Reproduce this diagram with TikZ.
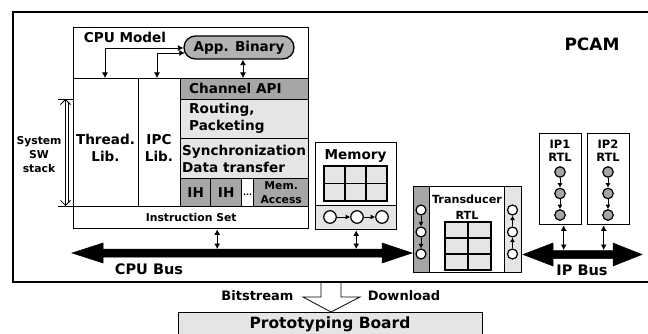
\documentclass[tikz,border=0pt]{standalone}
\usepackage{fontspec}
\setmainfont{DejaVu Sans}
\usetikzlibrary{arrows.meta,shapes.misc,calc}
\begin{document}
\begin{tikzpicture}[x=1pt,y=-1pt,
  box/.style={draw, line width=1.4pt, inner sep=0pt, anchor=north west},
  dk/.style={fill=black!35},
  lt/.style={fill=black!10},
  bigtxt/.style={font=\fontsize{13.6}{17}\selectfont\bfseries, inner sep=0pt, align=center},
  smtxt/.style={font=\fontsize{10.8}{14}\selectfont\bfseries, inner sep=0pt, align=center},
  bidir/.style={{Latex[length=5.5pt,width=6pt]}-{Latex[length=5.5pt,width=6pt]}, line width=0.8pt},
  dot/.style={circle, draw, line width=1.2pt, inner sep=0pt, fill=white},
  flow/.style={-{Latex[length=4.5pt,width=5pt]}, line width=0.8pt},
  bus/.style={fill=black, draw=black, line width=0.5pt}]
\useasboundingbox (0,0) rectangle (648,334);

% PCAM frame (open on the right)
\draw[line width=1.6pt] (650,12) -- (13,12) -- (13,282) -- (650,282);
\node[font=\fontsize{17}{17}\selectfont\bfseries, inner sep=0pt] (pcam) at (592,44) {PCAM};

% CPU model
\node[box, minimum width=235pt, minimum height=201pt] (cpu) at (73,27) {};
\node[bigtxt] (cputxt) at (125,37) {CPU Model};
\node[draw, rounded rectangle, line width=1.3pt, fill=black!30, minimum width=110pt,
      minimum height=23pt, inner sep=0pt, font=\fontsize{13.6}{17}\selectfont\bfseries]
      (app) at (239,47.5) {App. Binary};

\node[box, minimum width=65pt, minimum height=128pt] (thr) at (73,78) {};
\node[box, minimum width=42pt, minimum height=128pt] (ipc) at (138,78) {};
\node[box, dk, minimum width=128pt, minimum height=21pt] (chan) at (180,78) {};
\node[box, lt, minimum width=128pt, minimum height=39pt] (rout) at (180,99) {};
\node[box, lt, minimum width=128pt, minimum height=40pt] (sync) at (180,138) {};
\node[box, dk, minimum width=30pt, minimum height=28pt] (ih1) at (180,178) {};
\node[box, dk, minimum width=31pt, minimum height=28pt] (ih2) at (210,178) {};
\node[box, fill=white, minimum width=12pt, minimum height=28pt] (dots) at (241,178) {};
\node[box, dk, minimum width=55pt, minimum height=28pt] (macc) at (253,178) {};
\node[box, fill=white, minimum width=235pt, minimum height=22pt] (iset) at (73,206) {};

\node[bigtxt] at (105.5,148) {Thread.\\Lib.};
\node[bigtxt] at (159,148) {IPC\\Lib.};
\node[bigtxt, anchor=west] at (189,88.5) {Channel API};
\node[bigtxt, anchor=west, align=left] at (189,118.5) {Routing,\\Packeting};
\node[bigtxt, anchor=west, align=left] at (182,158.5) {Synchronization\\Data transfer};
\node[bigtxt] at (ih1.center) {IH};
\node[bigtxt] at (ih2.center) {IH};
\node[font=\fontsize{8}{8}\selectfont\bfseries, inner sep=0pt] at ([yshift=-2pt]dots.center) {...};
\node[smtxt] at (macc.center) {Mem.\\Access};
\node[smtxt] at (iset.center) {Instruction Set};

% links inside the CPU model
\draw[bidir] (105,78) |- ($(app.west)+(0,0.5)$);
\draw[bidir] (157,78) |- ($(app.west)+(1.5,5.5)$);
\draw[bidir] ([xshift=4pt]app.south) -- ([xshift=4pt]app.south |- chan.north);

% system software stack span
\coordinate (swtop) at (65.5,99);
\coordinate (swbot) at (65.5,206);
\draw[line width=0.9pt] (58,99) -- (74,99);
\draw[line width=0.9pt] (58,206) -- (73,206);
\draw[line width=0.8pt, {Straight Barb[length=5pt,width=10pt]}-{Straight Barb[length=5pt,width=10pt]}] (swtop) -- (swbot);
\draw[line width=0.8pt] (68,102) -- (68,203);
\node[smtxt] at (39,155) {System\\SW\\stack};

% memory
\node[box, minimum width=81pt, minimum height=87pt] (mem) at (315,142) {};
\node[box, lt, minimum width=81pt, minimum height=24pt] (memq) at (315,205) {};
\node[bigtxt] at (355.5,156) {Memory};
\draw[lt, line width=1.2pt] (324,166) rectangle (387,201);
\draw[line width=1.2pt] (345,166) -- (345,201) (366,166) -- (366,201) (324,183.5) -- (387,183.5);
\node[dot, minimum size=12.5pt] (m1) at (330,217) {};
\node[dot, minimum size=12.5pt] (m2) at (357,217) {};
\node[dot, minimum size=12.5pt] (m3) at (382,217) {};
\draw[flow] (m1) -- (m2);
\draw[flow] (m2) -- (m3);

% CPU bus
\coordinate (busy) at (0,249);
\fill[bus] (72,253) -- (103,243) -- (103,249) -- (382,249) -- (382,243) -- (412,253)
  -- (382,263) -- (382,257) -- (103,257) -- (103,263) -- cycle;
\node[font=\fontsize{14.5}{14.5}\selectfont\bfseries, inner sep=0pt] at (149,269) {CPU Bus};
\draw[bidir] ([xshift=26pt]iset.south) -- ([xshift=26pt]iset.south |- busy);
\draw[bidir] (mem.south) -- (mem.south |- busy);

% transducer
\node[box, fill=white, minimum width=108pt, minimum height=86pt] (trd) at (413,186) {};
\node[box, dk, minimum width=16pt, minimum height=86pt] (trl) at (413,186) {};
\node[box, lt, minimum width=17pt, minimum height=86pt] (trr) at (504,186) {};
\node[smtxt, font=\fontsize{11.2}{16}\selectfont\bfseries] at (467,207) {Transducer\\RTL};
\draw[lt, line width=1.2pt] (445,222) rectangle (491,270);
\draw[line width=1.2pt] (468,222) -- (468,270) (445,238) -- (491,238) (445,254) -- (491,254);
\node[dot, minimum size=10pt] (a1) at (421,210) {};
\node[dot, minimum size=10pt] (a2) at (421,232) {};
\node[dot, minimum size=10pt] (a3) at (421,254) {};
\draw[flow] (a1) -- (a2);
\draw[flow] (a2) -- (a3);
\node[dot, minimum size=10pt] (b1) at (512.5,210) {};
\node[dot, minimum size=10pt] (b2) at (512.5,232) {};
\node[dot, minimum size=10pt] (b3) at (512.5,254) {};
\draw[flow] (b3) -- (b2);
\draw[flow] (b2) -- (b1);

% IP blocks
\node[box, minimum width=42pt, minimum height=91pt] (ip1) at (539,133) {};
\node[box, minimum width=42pt, minimum height=91pt] (ip2) at (587,133) {};
\node[smtxt, font=\fontsize{11.5}{13}\selectfont\bfseries] at (560,151) {IP1\\RTL};
\node[smtxt, font=\fontsize{11.5}{13}\selectfont\bfseries] at (608,151) {IP2\\RTL};
\foreach \n/\x in {p/560, q/608} {
  \node[dot, fill=black!35, minimum size=10.5pt] (\n1) at (\x,172) {};
  \node[dot, fill=black!35, minimum size=10.5pt] (\n2) at (\x,193.5) {};
  \node[dot, fill=black!35, minimum size=10.5pt] (\n3) at (\x,215) {};
  \draw[flow] (\n1) -- (\n2);
  \draw[flow] (\n2) -- (\n3);
}

% IP bus
\coordinate (ipy) at (0,250);
\fill[bus] (523,254.5) -- (553,243) -- (553,250.5) -- (613,250.5) -- (613,243) -- (642,254.5)
  -- (613,266) -- (613,258.5) -- (553,258.5) -- (553,266) -- cycle;
\node[font=\fontsize{14.5}{14.5}\selectfont\bfseries, inner sep=0pt] at (582,270) {IP Bus};
\draw[bidir] ([xshift=3pt]ip1.south) -- ([xshift=3pt]ip1.south |- ipy);
\draw[bidir] ([xshift=-5pt]ip2.south) -- ([xshift=-5pt]ip2.south |- ipy);

% download to the board
\node[box, lt, minimum width=304pt, minimum height=30pt] (pb) at (178,312) {};
\node[font=\fontsize{15.5}{15.5}\selectfont\bfseries, inner sep=0pt] at (330,324) {Prototyping Board};
\fill[white] (321,283) -- (321,297) -- (303,297) -- (331,312) -- (360,297) -- (341,297) -- (341,283) -- cycle;
\draw[line width=0.8pt, line join=miter] (321,282.5) -- (321,297) -- (303,297) -- (331,312) -- (360,297) -- (341,297) -- (341,282.5);
\node[font=\fontsize{13}{13}\selectfont\bfseries, inner sep=0pt] at (257.5,296) {Bitstream};
\node[font=\fontsize{13}{13}\selectfont\bfseries, inner sep=0pt] at (404,296) {Download};
\end{tikzpicture}
\end{document}
